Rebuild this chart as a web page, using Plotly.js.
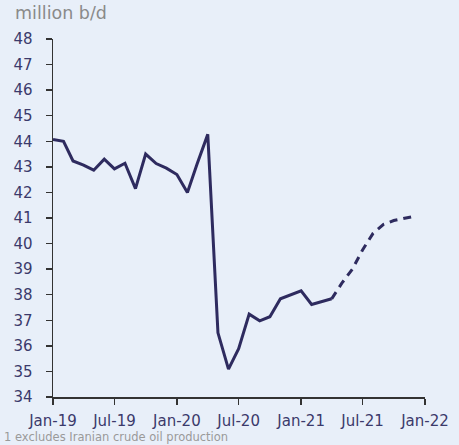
<!DOCTYPE html>
<html>
<head>
<meta charset="utf-8">
<script src="https://cdn.plot.ly/plotly-3.0.1.min.js"></script>
<style>
html,body{margin:0;padding:0;background:#e8eff9;}
#chart{width:459px;height:445px;}
</style>
</head>
<body>
<div id="chart"></div>
<script>
const actualMonths = [
  '2019-01-01','2019-02-01','2019-03-01','2019-04-01','2019-05-01','2019-06-01',
  '2019-07-01','2019-08-01','2019-09-01','2019-10-01','2019-11-01','2019-12-01',
  '2020-01-01','2020-02-01','2020-03-01','2020-04-01','2020-05-01','2020-06-01',
  '2020-07-01','2020-08-01','2020-09-01','2020-10-01','2020-11-01','2020-12-01',
  '2021-01-01','2021-02-01','2021-03-01','2021-04-01'
];
const actualValues = [
  44.07, 44.0, 43.23, 43.07, 42.87, 43.3,
  42.92, 43.14, 42.15, 43.5, 43.13, 42.95,
  42.7, 42.0, 43.13, 44.27, 36.51, 35.09,
  35.89, 37.24, 36.98, 37.14, 37.84, 38.0,
  38.15, 37.62, 37.72, 37.84
];
const forecastMonths = [
  '2021-04-01','2021-05-01','2021-06-01','2021-07-01','2021-08-01',
  '2021-09-01','2021-10-01','2021-11-01','2021-12-01'
];
const forecastValues = [37.84, 38.45, 39.0, 39.75, 40.4, 40.75, 40.9, 40.98, 41.07];

const xTickVals = ['2019-01-01','2019-07-01','2020-01-01','2020-07-01','2021-01-01','2021-07-01','2022-01-01'];
const xTickText = ['Jan-19','Jul-19','Jan-20','Jul-20','Jan-21','Jul-21','Jan-22'];
const yTickVals = [34,35,36,37,38,39,40,41,42,43,44,45,46,47,48];

const unitLabel = 'million b/d';
const footnote = '1 excludes Iranian crude oil production';

const lineColor = '#2e2b5f';
const textColor = '#3b3a6b';
const axisColor = '#333333';
const bg = '#e8eff9';
const fontFam = '"DejaVu Sans", Verdana, sans-serif';

const traces = [
  {x: actualMonths, y: actualValues, type: 'scatter', mode: 'lines',
   line: {color: lineColor, width: 3}, hoverinfo: 'skip'},
  {x: forecastMonths, y: forecastValues, type: 'scatter', mode: 'lines',
   line: {color: lineColor, width: 3, dash: '8px,6px'}, hoverinfo: 'skip'}
];

const layout = {
  width: 459, height: 445,
  margin: {l: 53, r: 34, t: 39, b: 48},
  paper_bgcolor: bg, plot_bgcolor: bg,
  showlegend: false,
  font: {family: fontFam, color: textColor, size: 15},
  title: {text: unitLabel, xref: 'container', yref: 'container',
          x: 15/459, xanchor: 'left', y: 1 - 13/445, yanchor: 'middle',
          font: {family: fontFam, size: 17.5, color: '#8a8a8a'}},
  xaxis: {
    type: 'date', range: ['2019-01-01','2022-01-01'],
    tickmode: 'array', tickvals: xTickVals, ticktext: xTickText,
    showgrid: false, zeroline: false,
    showline: true, linecolor: axisColor, linewidth: 1.5,
    ticks: 'outside', ticklen: 6, tickwidth: 1.5, tickcolor: axisColor,
    tickfont: {family: fontFam, size: 15, color: textColor},
    ticklabelstandoff: 3
  },
  yaxis: {
    range: [34, 48], tickmode: 'array', tickvals: yTickVals,
    showgrid: false, zeroline: false,
    showline: true, linecolor: axisColor, linewidth: 1.5,
    ticks: 'outside', ticklen: 6, tickwidth: 1.5, tickcolor: axisColor,
    tickfont: {family: fontFam, size: 15, color: textColor},
    ticklabelstandoff: 10
  },
  annotations: [
    {text: footnote, xref: 'paper', yref: 'paper',
     x: (2 - 53) / 372, xanchor: 'left', y: (397 - 437) / 358, yanchor: 'middle',
     showarrow: false, font: {family: fontFam, size: 11.5, color: '#9a9a9a'}}
  ]
};

Plotly.newPlot('chart', traces, layout, {staticPlot: true, displayModeBar: false});
</script>
</body>
</html>
